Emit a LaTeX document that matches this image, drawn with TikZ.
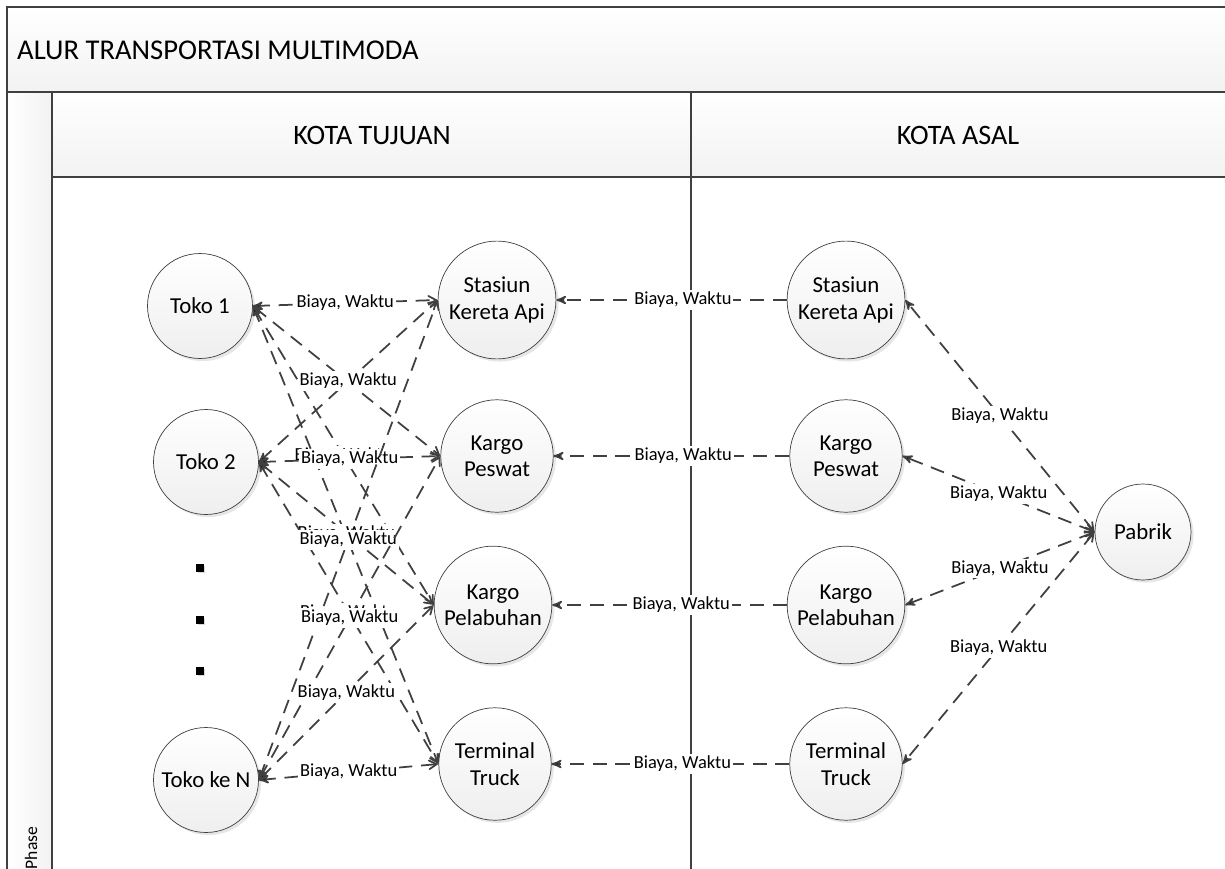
\documentclass[tikz,border=0pt]{standalone}
\usepackage{fontspec}
\setmainfont{Carlito}
\usepackage{tikz}
\usetikzlibrary{arrows,shadows}
\definecolor{linegray}{HTML}{404040}

\begin{document}
\begin{tikzpicture}[x=0.02cm,y=-0.02cm,>=stealth',
        line/.style={draw=linegray,line width=1pt},
        band/.style={line,top color=white,bottom color=gray!10},
        toko/.style={circle,draw=linegray,top color=white,bottom color=gray!13,
          minimum size=2.1cm,inner sep=0pt,align=center,font=\fontsize{13}{15}\selectfont,
          drop shadow={shadow xshift=1.5pt,shadow yshift=-1.5pt,opacity=0.2}},
        hub/.style={toko,minimum size=2.25cm,inner sep=2.5pt},
        dotmark/.style={fill=black,minimum size=4.2pt,inner sep=0pt,
          drop shadow={shadow xshift=1pt,shadow yshift=-1pt,opacity=0.3}},
        flow/.style={draw=linegray,line width=1pt,dash pattern=on 8pt off 5pt},
        tw/.style={arrows={stealth'-angle 60}},
        lbl/.style={fill=white,inner sep=1pt,font=\fontsize{10.5}{12}\selectfont}]

      \useasboundingbox (0,0) rectangle (1225,869);
      \clip (0,0) rectangle (1225,869);

      % pool and lanes
      \path[band] (7,7) rectangle (1230,92);
      \path[band] (52,92) rectangle (691,177);
      \path[band] (691,92) rectangle (1230,177);
      \path[line,left color=white,right color=gray!10] (7,92) rectangle (52,880);
      \draw[line] (691,177) -- (691,880);

      \node[anchor=west,font=\fontsize{16.3}{19}\selectfont] (title) at (11,50) {ALUR TRANSPORTASI MULTIMODA};
      \node[font=\fontsize{16}{19}\selectfont] (tujuan) at (372,135) {KOTA TUJUAN};
      \node[font=\fontsize{16}{19}\selectfont] (asal) at (958,135) {KOTA ASAL};
      \node[rotate=90,font=\fontsize{10}{12}\selectfont] (phase) at (31,848) {Phase};

      % kota tujuan
      \node[toko] (toko1) at (200,306) {Toko 1};
      \node[toko] (toko2) at (206,462) {Toko 2};
      \node[toko] (tokon) at (206,780) {Toko ke N};
      \node[dotmark] (dot1) at (200,568) {};
      \node[dotmark] (dot2) at (200,620) {};
      \node[dotmark] (dot3) at (200,671) {};

      \node[hub] (stasA) at (497,300) {Stasiun\\Kereta Api};
      \node[hub] (pesA) at (497,456) {Kargo\\Peswat};
      \node[hub] (pelA) at (493,605) {Kargo\\Pelabuhan};
      \node[hub] (truckA) at (495,764) {Terminal\\Truck};

      % kota asal
      \node[hub] (stasB) at (846,300) {Stasiun\\Kereta Api};
      \node[hub] (pesB) at (846,456) {Kargo\\Peswat};
      \node[hub] (pelB) at (846,605) {Kargo\\Pelabuhan};
      \node[hub] (truckB) at (846,764) {Terminal\\Truck};
      \node[toko,minimum size=1.92cm] (pabrik) at (1143,532) {Pabrik};

      \path[flow,every node/.style=lbl]
      (pabrik.west) edge[angle 60->] node {Biaya, Waktu} (stasB.east)
      (pabrik.west) edge[angle 60->] node {Biaya, Waktu} (pesB.east)
      (pabrik.west) edge[angle 60->] node {Biaya, Waktu} (pelB.east)
      (pabrik.west) edge[angle 60->] node {Biaya, Waktu} (truckB.east)
      (stasB.west) edge[->] node[pos=0.45] {Biaya, Waktu} (stasA.east)
      (pesB.west) edge[->] node[pos=0.45] {Biaya, Waktu} (pesA.east)
      (pelB.west) edge[->] node[pos=0.45] {Biaya, Waktu} (pelA.east)
      (truckB.west) edge[->] node[pos=0.45] {Biaya, Waktu} (truckA.east);

      \path[flow,every node/.style=lbl]
      (toko1.east) edge[tw] node {Biaya, Waktu} (stasA.west)
      (toko1.east) edge[tw] node {Biaya, Waktu} (pesA.west)
      (toko1.east) edge[tw] node {Biaya, Waktu} (pelA.west)
      (toko1.east) edge[tw] node {Biaya, Waktu} (truckA.west)
      (toko2.east) edge[tw] node {Biaya, Waktu} (stasA.west)
      (toko2.east) edge[tw] node {Biaya, Waktu} (pesA.west)
      (toko2.east) edge[tw] node {Biaya, Waktu} (pelA.west)
      (toko2.east) edge[tw] node {Biaya, Waktu} (truckA.west)
      (tokon.east) edge[tw] node {Biaya, Waktu} (stasA.west)
      (tokon.east) edge[tw] node {Biaya, Waktu} (pesA.west)
      (tokon.east) edge[tw] node {Biaya, Waktu} (pelA.west)
      (tokon.east) edge[tw] node {Biaya, Waktu} (truckA.west);
\end{tikzpicture}
\end{document}
